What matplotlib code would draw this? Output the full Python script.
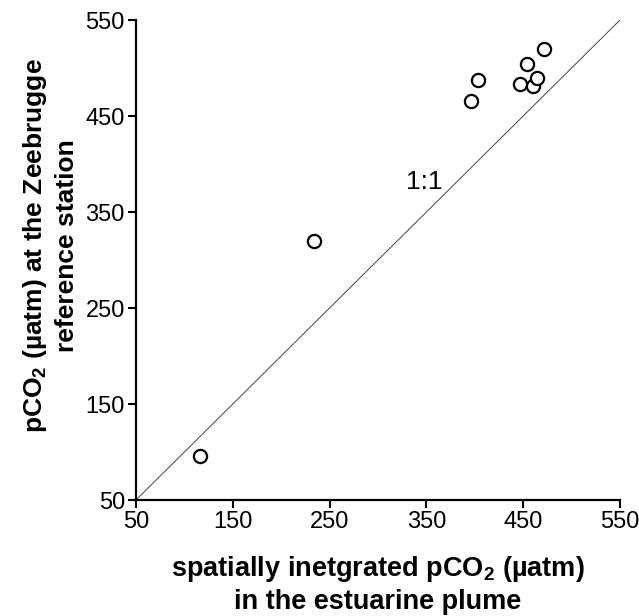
import matplotlib
matplotlib.use("Agg")
import matplotlib.pyplot as plt

# pCO2 values (uatm)
plume_pco2 = [116, 234, 396, 403, 447, 454, 460, 464, 472]
zeebrugge_pco2 = [96, 320, 466, 487, 483, 504, 481, 490, 520]
ticks = [50, 150, 250, 350, 450, 550]
one_to_one = [50, 550]

plt.rcParams['font.family'] = ['Liberation Sans', 'DejaVu Sans']
plt.rcParams['mathtext.fontset'] = 'custom'
plt.rcParams['mathtext.rm'] = 'Liberation Sans'
plt.rcParams['mathtext.bf'] = 'Liberation Sans:bold'

fig = plt.figure(figsize=(6.39, 6.16), dpi=100)
ax = fig.add_axes([0.2128, 0.1883, 0.7574, 0.7792])

ax.plot(one_to_one, one_to_one, color='#444444', lw=0.7)
ax.plot(plume_pco2, zeebrugge_pco2, 'o', ms=9.5, mfc='white', mec='black', mew=1.6,
        clip_on=False)
ax.text(348, 381, '1:1', fontsize=19, ha='center', va='center')

ax.set_xlim(50, 550)
ax.set_ylim(50, 550)
ax.set_xticks(ticks)
ax.set_yticks(ticks)
ax.tick_params(labelsize=17, width=1.5, length=6, direction='out', pad=2)

for side in ['top', 'right']:
    ax.spines[side].set_visible(False)
for side in ['left', 'bottom']:
    ax.spines[side].set_linewidth(1.6)

ax.set_xlabel('spatially inetgrated pCO$_\\mathbf{2}$ (µatm)\nin the estuarine plume',
              fontsize=19.5, fontweight='bold', labelpad=15, linespacing=1.25)
ax.set_ylabel('pCO$_\\mathbf{2}$ (µatm) at the Zeebrugge\nreference station',
              fontsize=19, fontweight='bold', linespacing=1.3)
ax.yaxis.set_label_coords(-0.118, 0.53)

fig.savefig('out.png', dpi=100)
